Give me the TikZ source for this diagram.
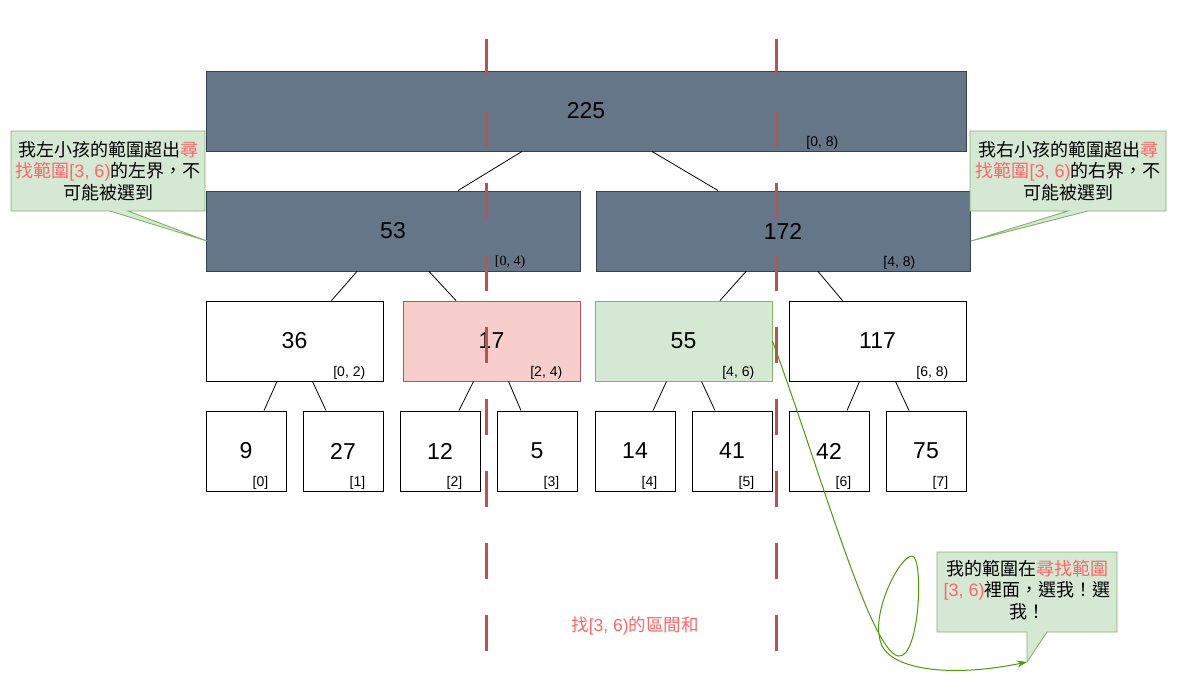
\documentclass[tikz,border=0pt]{standalone}
\usepackage{fontspec}
\setmainfont{Liberation Sans}
\newfontfamily\cjk{Noto Sans CJK TC}
\newfontfamily\serifont{Liberation Serif}
\usetikzlibrary{calc,arrows.meta}
\definecolor{slate}{HTML}{647687}
\definecolor{slateline}{HTML}{314354}
\definecolor{pinkfill}{HTML}{F8CECC}
\definecolor{redline}{HTML}{B85450}
\definecolor{greenfill}{HTML}{D5E8D4}
\definecolor{greenline}{HTML}{82B366}
\definecolor{redtext}{HTML}{FF6666}
\definecolor{curvegreen}{HTML}{4D9A0A}
\newcommand{\lat}[1]{{\rmfamily #1}}
\newcommand{\rt}[1]{\textcolor{redtext}{#1}}
\begin{document}
\begin{tikzpicture}[x=1pt,y=-1pt,
  box/.style={draw=black, fill=white, line width=0.9pt, rectangle, inner sep=0pt, minimum height=80pt, font=\fontsize{23}{27}\selectfont},
  dark/.style={box, fill=slate, draw=slateline},
  leaf/.style={box, minimum width=80pt},
  mid/.style={box, minimum width=177pt},
  rng/.style={anchor=east, inner sep=0pt, font=\fontsize{14}{16}\selectfont},
  edge/.style={draw=black, line width=0.8pt},
  callout/.style={fill=greenfill, draw=greenline, line width=0.9pt},
  ctext/.style={align=center, inner sep=0pt, font=\cjk\fontsize{18}{21.6}\selectfont},
  cut/.style={draw=redline, line width=3pt, dash pattern=on 36pt off 36pt},
]
\useasboundingbox[fill=white] (0,0) rectangle (1177,685);

% boxes
\node[dark, minimum width=760pt] (n225) at (586,111) {225};
\node[dark, minimum width=374pt] (n53) at (393,231) {53};
\node[dark, minimum width=374pt] (n172) at (783,231) {172};
\node[mid] (n36) at (294.5,341) {36};
\node[mid, fill=pinkfill, draw=redline] (n17) at (491.5,341) {17};
\node[mid, fill=greenfill, draw=greenline] (n55) at (683.5,341) {55};
\node[mid] (n117) at (877.5,341) {117};
\node[leaf] (n9) at (246,451) {9};
\node[leaf] (n27) at (343,451) {27};
\node[leaf] (n12) at (440,451) {12};
\node[leaf] (n5) at (537,451) {5};
\node[leaf] (n14) at (635,451) {14};
\node[leaf] (n41) at (732,451) {41};
\node[leaf] (n42) at (829,451) {42};
\node[leaf] (n75) at (926,451) {75};

% range labels
\node[rng] (l225) at ($(n225.south east)+(-128,-9)$) {[0, 8)};
\node[rng, font=\serifont\fontsize{14}{16}\selectfont] (l53) at ($(n53.south east)+(-55,-9)$) {[0, 4)};
\node[rng] (l172) at ($(n172.south east)+(-55,-9)$) {[4, 8)};
\node[rng] (l36) at ($(n36.south east)+(-18,-9)$) {[0, 2)};
\node[rng] (l17) at ($(n17.south east)+(-18,-9)$) {[2, 4)};
\node[rng] (l55) at ($(n55.south east)+(-18,-9)$) {[4, 6)};
\node[rng] (l117) at ($(n117.south east)+(-18,-9)$) {[6, 8)};
\node[rng] (l9) at ($(n9.south east)+(-18,-9)$) {[0]};
\node[rng] (l27) at ($(n27.south east)+(-18,-9)$) {[1]};
\node[rng] (l12) at ($(n12.south east)+(-18,-9)$) {[2]};
\node[rng] (l5) at ($(n5.south east)+(-18,-9)$) {[3]};
\node[rng] (l14) at ($(n14.south east)+(-18,-9)$) {[4]};
\node[rng] (l41) at ($(n41.south east)+(-18,-9)$) {[5]};
\node[rng] (l42) at ($(n42.south east)+(-18,-9)$) {[6]};
\node[rng] (l75) at ($(n75.south east)+(-18,-9)$) {[7]};

% edges
\draw[edge] ($(n225.south)+(-64,0)$) -- ($(n53.north)+(65,0)$);
\draw[edge] ($(n225.south)+(66,0)$) -- ($(n172.north)+(-65,0)$);
\draw[edge] ($(n53.south)+(-36,0)$) -- ($(n36.north)+(37,0)$);
\draw[edge] ($(n53.south)+(36,0)$) -- ($(n17.north)+(-35.5,0)$);
\draw[edge] ($(n172.south)+(-37,0)$) -- ($(n55.north)+(36.5,0)$);
\draw[edge] ($(n172.south)+(35,0)$) -- ($(n117.north)+(-35,0)$);
\draw[edge] ($(n36.south)+(-17.5,0)$) -- ($(n9.north)+(18,0)$);
\draw[edge] ($(n36.south)+(18,0)$) -- ($(n27.north)+(-17,0)$);
\draw[edge] ($(n17.south)+(-18,0)$) -- ($(n12.north)+(19,0)$);
\draw[edge] ($(n17.south)+(17,0)$) -- ($(n5.north)+(-16,0)$);
\draw[edge] ($(n55.south)+(-17,0)$) -- ($(n14.north)+(18,0)$);
\draw[edge] ($(n55.south)+(18,0)$) -- ($(n41.north)+(-17,0)$);
\draw[edge] ($(n117.south)+(-18,0)$) -- ($(n42.north)+(18,0)$);
\draw[edge] ($(n117.south)+(18,0)$) -- ($(n75.north)+(-17,0)$);

% callouts
\draw[callout] (11,131) -- (205,131) -- (205,211) -- (128,211) -- (207,241) -- (110,211) -- (11,211) -- cycle;
\node[ctext] (c1) at (108,171) {我左小孩的範圍超出\rt{尋}\\\rt{找範圍\lat{[3, 6)}}的左界，不\\可能被選到};
\draw[callout] (970,131) -- (1166,131) -- (1166,211) -- (1088,211) -- (971,241) -- (1068,211) -- (970,211) -- cycle;
\node[ctext] (c2) at (1068,171) {我右小孩的範圍超出\rt{尋}\\\rt{找範圍\lat{[3, 6)}}的右界，不\\可能被選到};
\draw[callout] (937,552) -- (1117,552) -- (1117,632) -- (1047,632) -- (1027,662) -- (1027,632) -- (937,632) -- cycle;
\node[ctext] (c3) at (1027,590) {我的範圍在\rt{尋找範圍}\\\rt{\lat{[3, 6)}}裡面，選我！選\\我！};

% query text
\node[inner sep=0pt, text=redtext, font=\cjk\fontsize{17.5}{20}\selectfont] (q) at (635,626) {找\lat{[3, 6)}的區間和};

% cut lines
\coordinate (a1) at (486,39);
\coordinate (a2) at (486,651);
\coordinate (b1) at (776,39);
\coordinate (b2) at (776,651);
\draw[cut] (a1) -- (a2);
\draw[cut] (b1) -- (b2);

% green curve
\coordinate (tip) at (1027,662);
\draw[curvegreen, line width=1pt, -{Stealth[length=10pt,width=7pt]}] (n55.east) .. controls (820,470) and (870,650) .. (898,656) .. controls (920,660) and (924,556) .. (912,556) .. controls (900,556) and (872,610) .. (880,640) .. controls (886,670) and (950,678) .. (tip);
\end{tikzpicture}
\end{document}
